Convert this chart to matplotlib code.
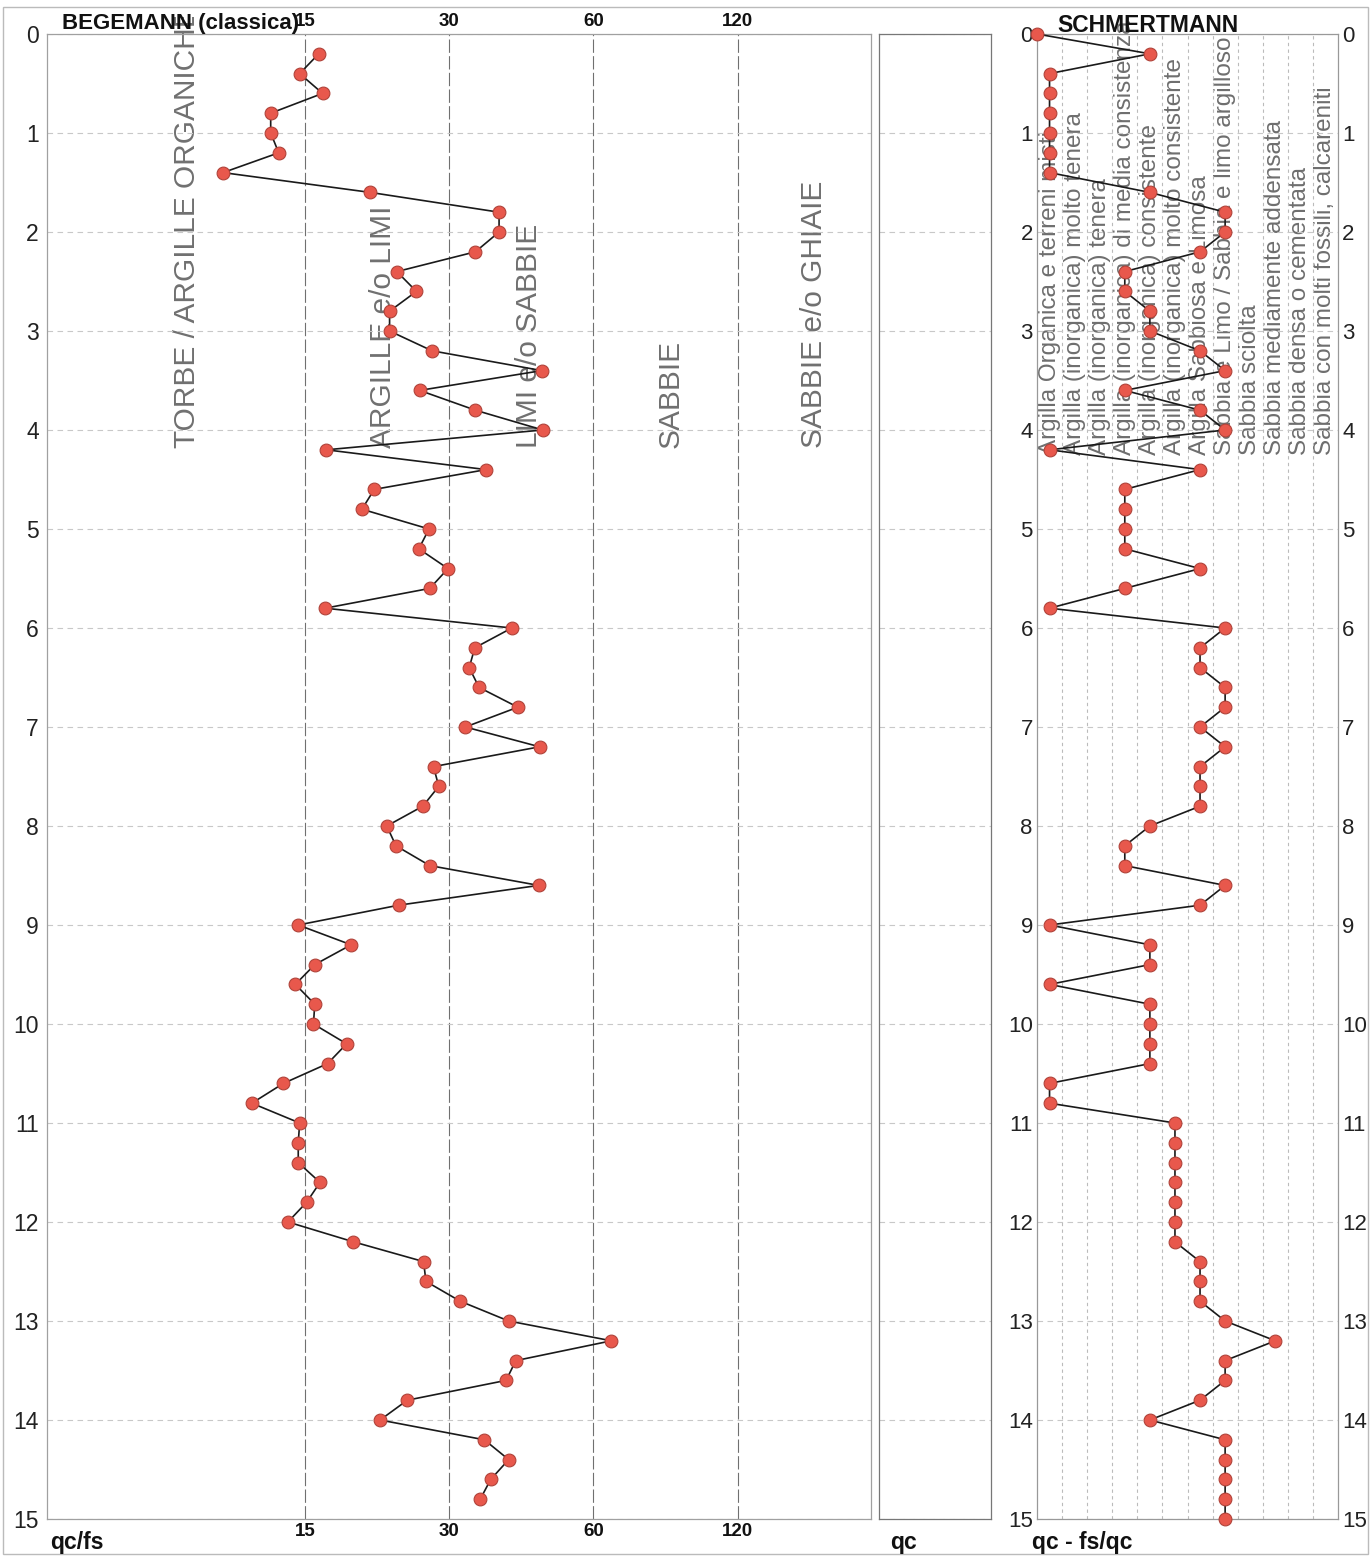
import matplotlib
matplotlib.use("Agg")
import matplotlib.pyplot as plt
import numpy as np
from matplotlib.patches import Rectangle
from matplotlib.ticker import NullLocator
from matplotlib.transforms import Bbox, TransformedBbox

plt.rcParams['font.family'] = ['Liberation Sans', 'DejaVu Sans']

W, H = 1371, 1557

# CPT readings every 20 cm
beg_depth = np.arange(1, 75) * 0.2          # 0.2 ... 14.8 m
beg_qcfs = [16.0, 14.6, 16.3, 12.7, 12.7, 13.2, 10.1, 20.5, 38.1, 38.1,
            34.0, 23.3, 25.6, 22.5, 22.5, 27.6, 46.8, 26.0, 34.0, 47.0,
            16.6, 35.8, 20.9, 19.7, 27.2, 25.9, 29.8, 27.3, 16.5, 40.5,
            33.9, 33.0, 34.6, 41.7, 32.4, 46.3, 27.8, 28.5, 26.4, 22.2,
            23.2, 27.3, 46.1, 23.5, 14.5, 18.7, 15.7, 14.3, 15.7, 15.6,
            18.3, 16.7, 13.5, 11.6, 14.6, 14.5, 14.5, 16.1, 15.1, 13.8,
            18.9, 26.5, 26.8, 31.6, 39.9, 65.4, 41.3, 39.4, 24.5, 21.5,
            35.5, 39.9, 36.6, 34.8]

beg_ticks = [15, 30, 60, 120]
beg_zones = ["TORBE / ARGILLE ORGANICHE", "ARGILLE e/o LIMI", "LIMI e/o SABBIE",
             "SABBIE", "SABBIE e/o GHIAIE"]
beg_zone_pos = [8.5, 21.8, 43.9, 86.9, 173.0]

schm_depth = np.arange(0, 76) * 0.2         # 0.0 ... 15.0 m
# soil class index (1 = first column), 0 = no reading
schm_class = [0, 5, 1, 1, 1, 1, 1, 1, 5, 8, 8, 7, 4, 4, 5, 5, 7, 8, 4, 7,
              8, 1, 7, 4, 4, 4, 4, 7, 4, 1, 8, 7, 7, 8, 8, 7, 8, 7, 7, 7,
              5, 4, 4, 8, 7, 1, 5, 5, 1, 5, 5, 5, 5, 1, 1, 6, 6, 6, 6, 6,
              6, 6, 7, 7, 7, 8, 10, 8, 8, 7, 5, 8, 8, 8, 8, 8]
schm_labels = ["Argilla Organica e terreni misti",
               "Argilla (inorganica) molto tenera",
               "Argilla (inorganica) tenera",
               "Argilla (inorganica) di media consistenza",
               "Argilla (inorganica) consistente",
               "Argilla (inorganica) molto consistente",
               "Argilla Sabbiosa e Limosa",
               "Sabbia e Limo / Sabbia e limo argilloso",
               "Sabbia sciolta",
               "Sabbia mediamente addensata",
               "Sabbia densa o cementata",
               "Sabbia con molti fossili, calcareniti"]

depth_ticks = list(range(0, 16))

MK = dict(marker='o', markersize=9.2, markerfacecolor='#e8584c',
          markeredgecolor='#b0433a', markeredgewidth=0.8,
          color='#1a1a1a', linewidth=1.2)


def px_axes(x0, x1, y0, y1):
    return fig.add_axes([x0 / W, 1 - y1 / H, (x1 - x0) / W, (y1 - y0) / H])


def style_spines(ax, color='#8a8a8a'):
    for s in ax.spines.values():
        s.set_color(color)
        s.set_linewidth(0.9)


fig = plt.figure(figsize=(W / 100, H / 100), dpi=100)

# ---- Begemann panel
ax1 = px_axes(47, 871, 34, 1519)
ax1.set_xscale('log')
ax1.set_xlim(4.33, 228)
ax1.set_ylim(15, 0)
ax1.plot(beg_qcfs, beg_depth, zorder=3, **MK)
ax1.set_xticks(beg_ticks)
ax1.set_xticklabels([str(t) for t in beg_ticks])
ax1.xaxis.set_minor_locator(NullLocator())
ax1.set_yticks(depth_ticks)
ax1.tick_params(axis='x', length=0, top=True, labeltop=True, labelsize=13.5,
                pad=3, colors='#111111')
ax1.tick_params(axis='y', length=0, labelsize=16.5, pad=6, colors='#222222')
for t in ax1.xaxis.get_major_ticks():
    t.label1.set_fontweight('bold')
    t.label2.set_fontweight('bold')
ax1.grid(axis='x', color='#707070', linestyle=(0, (12, 3)), linewidth=0.8)
ax1.grid(axis='y', color='#c8c8c8', linestyle=(0, (5, 4)), linewidth=0.8)
style_spines(ax1, '#a0a0a0')

top_clip = TransformedBbox(Bbox([[0, 0], [1, 1 - 17 / H]]), fig.transFigure)
for lbl, xv in zip(beg_zones, beg_zone_pos):
    t = ax1.text(xv, 4.18, lbl, rotation=90, ha='center', va='bottom',
                 fontsize=21.5, color='#707070', zorder=1)
    t.set_clip_box(top_clip)
    t.set_clip_on(True)

# ---- qc panel (empty)
ax2 = px_axes(879, 991, 34, 1519)
ax2.set_ylim(15, 0)
ax2.set_xlim(0, 1)
ax2.set_yticks(depth_ticks)
ax2.set_xticks([])
ax2.tick_params(axis='y', length=0, labelleft=False)
ax2.grid(axis='y', color='#c8c8c8', linestyle=(0, (5, 4)), linewidth=0.8)
style_spines(ax2, '#777777')

# ---- Schmertmann panel
ax3 = px_axes(1037, 1338, 34, 1519)
ax3.set_xlim(0, 12)
ax3.set_ylim(15, 0)
schm_x = np.clip(np.array(schm_class) - 0.5, 0, None)
ax3.plot(schm_x, schm_depth, zorder=3, clip_on=False, **MK)
ax3.set_xticks(range(1, 12))
ax3.set_xticklabels([])
ax3.set_yticks(depth_ticks)
ax3.tick_params(axis='x', length=0)
ax3.tick_params(axis='y', length=0, labelsize=16, pad=3, colors='#222222',
                right=True, labelright=True)
ax3.grid(axis='x', color='#bbbbbb', linestyle=(0, (3, 3)), linewidth=0.8)
ax3.grid(axis='y', color='#c8c8c8', linestyle=(0, (5, 4)), linewidth=0.8)
style_spines(ax3, '#999999')
for k, lbl in enumerate(schm_labels, start=1):
    ax3.text(k - 0.5, 4.25, lbl, rotation=90, ha='center', va='bottom',
             fontsize=17.5, color='#6e6e6e', zorder=1, clip_on=False)

# ---- headers and axis names
fig.text(62 / W, 1 - 24 / H, "BEGEMANN (classica)", ha='left', va='center',
         fontsize=16, fontweight='bold', color='#111111')
fig.text(1057 / W, 1 - 25 / H, "SCHMERTMANN", ha='left', va='center',
         fontsize=16.5, fontweight='bold', color='#111111')
fig.text(50 / W, 1 - 1543 / H, "qc/fs", ha='left', va='center',
         fontsize=16.5, fontweight='bold', color='#111111')
fig.text(890 / W, 1 - 1543 / H, "qc", ha='left', va='center',
         fontsize=16.5, fontweight='bold', color='#111111')
fig.text(1032 / W, 1 - 1543 / H, "qc - fs/qc", ha='left', va='center',
         fontsize=16.5, fontweight='bold', color='#111111')

fig.patches.append(Rectangle((3 / W, 3 / H), 1365 / W, 1547 / H, fill=False,
                             edgecolor='#bbbbbb', linewidth=1,
                             transform=fig.transFigure, figure=fig))

fig.savefig('out.png', dpi=100)
